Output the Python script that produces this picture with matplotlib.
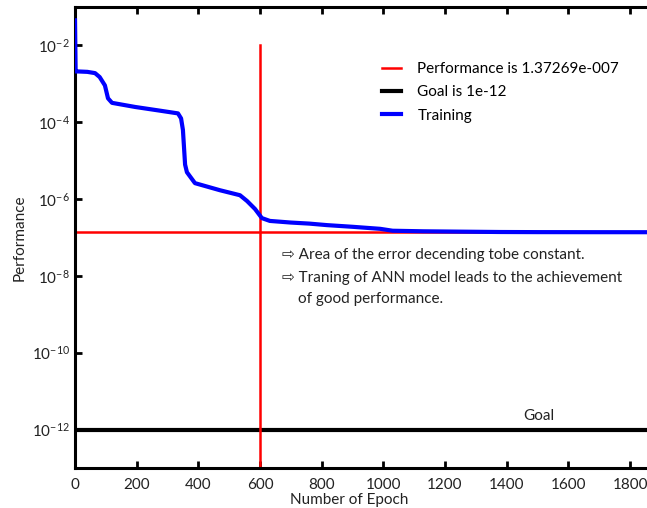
import numpy as np
import matplotlib
matplotlib.use("Agg")
import matplotlib.pyplot as plt
from matplotlib.ticker import FixedLocator, LogFormatterSciNotation

plt.rcParams['font.family'] = ['Lato', 'DejaVu Sans']
plt.rcParams['mathtext.fontset'] = 'custom'
plt.rcParams['mathtext.rm'] = 'Lato'
plt.rcParams['mathtext.it'] = 'Lato:italic'

# training curve
epochs = [0, 2, 10, 40, 65, 80, 97, 107, 120, 195, 276, 334, 344, 350, 357, 363, 389, 470,
          535, 558, 584, 606, 632, 700, 760, 817, 900, 990, 1030, 1130, 1250, 1380, 1500, 1700, 1860]
train_perf = [4.5e-2, 2.1e-3, 2.1e-3, 2.05e-3, 1.9e-3, 1.5e-3, 9.1e-4, 4.2e-4, 3.2e-4, 2.5e-4, 2.0e-4,
              1.7e-4, 1.26e-4, 6.3e-5, 7.9e-6, 5.0e-6, 2.6e-6, 1.7e-6,
              1.26e-6, 8.9e-7, 5.5e-7, 3.2e-7, 2.7e-7, 2.45e-7, 2.3e-7, 2.1e-7, 1.9e-7, 1.68e-7,
              1.5e-7, 1.45e-7, 1.42e-7, 1.39e-7, 1.38e-7, 1.375e-7, 1.373e-7]

best_perf = 1.37269e-7
goal = 1e-12
best_epoch = 600
x_ticks = [0, 200, 400, 600, 800, 1000, 1200, 1400, 1600, 1800]
y_ticks = [1e-12, 1e-10, 1e-8, 1e-6, 1e-4, 1e-2]

fig = plt.figure(figsize=(6.47, 5.08), dpi=100)
ax = fig.add_axes([75/647, 1 - 468/508, 1 - 75/647, (468 - 7)/508])

ax.axhline(best_perf, color='#ff0000', lw=1.8, label='Performance is 1.37269e-007', zorder=2)
ax.axhline(goal, color='black', lw=3, label='Goal is 1e-12', zorder=2)
ax.plot(epochs, train_perf, color='#0000ff', lw=3, label='Training', zorder=3)
ax.plot([best_epoch, best_epoch], [1e-2, 1e-13], color='#ff0000', lw=1.8, zorder=2)

ax.set_yscale('log')
ax.set_xlim(0, 1855)
ax.set_ylim(1e-13, 1e-1)
ax.yaxis.set_major_locator(FixedLocator(y_ticks))
ax.yaxis.set_major_formatter(LogFormatterSciNotation())
ax.yaxis.set_minor_locator(FixedLocator([]))
ax.set_xticks(x_ticks)

for s in ['left', 'bottom', 'top']:
    ax.spines[s].set_linewidth(2.2)
ax.spines['right'].set_visible(False)
ax.tick_params(direction='in', top=True, width=2, length=5, labelsize=11, colors='black')
ax.tick_params(axis='x', pad=7)
for lbl in ax.get_xticklabels() + ax.get_yticklabels():
    lbl.set_color('#222222')

ax.set_xlabel('Number of Epoch', fontsize=11, color='#222222', labelpad=2)
ax.xaxis.set_label_coords(0.48, -0.055)
ax.set_ylabel('Performance', fontsize=11, color='#222222', labelpad=4)

leg = ax.legend(loc='upper left', bbox_to_anchor=(0.513, 0.91), frameon=False, fontsize=11,
                handlelength=1.2, handletextpad=1.1, labelspacing=0.6)

note_family = ['Lato', 'DejaVu Sans']
ax.text(0.362, 0.462, '\u21e8 Area of the error decending tobe constant.', transform=ax.transAxes,
        fontsize=11, color='#222222', va='center', family=note_family)
ax.text(0.362, 0.413, '\u21e8 Traning of ANN model leads to the achievement', transform=ax.transAxes,
        fontsize=11, color='#222222', va='center', family=note_family)
ax.text(0.39, 0.367, 'of good performance.', transform=ax.transAxes,
        fontsize=11, color='#222222', va='center')
ax.text(1455, 1.5e-12, 'Goal', fontsize=11, color='#222222', va='bottom')

plt.savefig('out.png', dpi=100)
